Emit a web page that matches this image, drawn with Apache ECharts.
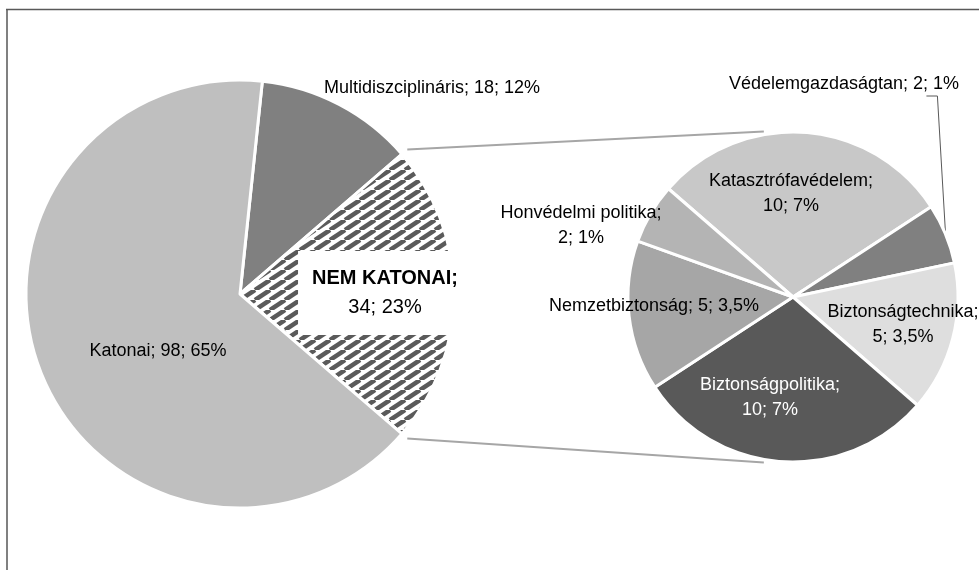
<!DOCTYPE html>
<html>
<head>
    <meta charset="utf-8"/>
    <title>Katonai / nem katonai</title>
    <style>
        html, body { margin: 0; padding: 0; background: #fff; }
        #chart { width: 979px; height: 570px; }
    </style>
</head>
<body>
<div id="chart"></div>
<script src="https://cdn.jsdelivr.net/npm/echarts@6/dist/echarts.min.js"></script>
<script>
    // fő kör
    var mainNames = ['Multidiszciplináris', 'NEM KATONAI', 'Katonai'];
    var mainValues = [18, 34, 98];
    var mainPct = ['12%', '23%', '65%'];
    // a kiemelt (nem katonai) rész bontása
    var subNames = ['Katasztrófavédelem', 'Védelemgazdaságtan', 'Biztonságtechnika', 'Biztonságpolitika', 'Nemzetbiztonság', 'Honvédelmi politika'];
    var subValues = [10, 2, 5, 10, 5, 2];
    var subPct = ['7%', '1%', '3,5%', '7%', '3,5%', '1%'];

    var FONT = '"Liberation Sans Narrow", "Arial Narrow", "Liberation Sans", Arial, sans-serif';
    var C1 = [240, 294], R1 = 214;
    var C2 = [793, 297], R2 = 165;
    var SUB_START = 139;

    // csíkos minta a NEM KATONAI szelethez
    function hatch() {
        var w = 15, h = 10;
        var cv = document.createElement('canvas');
        cv.width = w; cv.height = h;
        var ctx = cv.getContext('2d');
        ctx.fillStyle = '#fff';
        ctx.fillRect(0, 0, w, h);
        ctx.strokeStyle = '#5a5a5a';
        ctx.lineWidth = 4.5;
        for (var k = -1; k <= 1; k++) {
            ctx.beginPath();
            ctx.moveTo(k * w, h);
            ctx.lineTo(k * w + w, 0);
            ctx.stroke();
        }
        return cv;
    }

    var mainColors = ['#808080', {image: hatch(), repeat: 'repeat'}, '#bfbfbf'];
    var subColors = ['#c8c8c8', '#808080', '#dedede', '#595959', '#a6a6a6', '#b4b4b4'];

    // címkék helye, sortörés
    var mainLabels = [
        {x: 432, y: 88, br: false},
        {x: 385, y: 293, br: true},
        {x: 158, y: 351, br: false}
    ];
    var subLabels = [
        {x: 791, y: 194, br: true},
        {x: 844, y: 84, br: false, line: true},
        {x: 903, y: 325, br: true},
        {x: 770, y: 398, br: true},
        {x: 654, y: 306, br: false},
        {x: 581, y: 226, br: true}
    ];

    var total = mainValues.reduce(function (a, b) { return a + b; }, 0);
    var subTotal = subValues.reduce(function (a, b) { return a + b; }, 0);
    var startMain = 360 * (mainValues[0] + mainValues[1] / 2) / total;
    var edgeAng = startMain - 360 * mainValues[0] / total;

    var mainData = mainNames.map(function (n, i) {
        var d = {name: n, value: mainValues[i], itemStyle: {color: mainColors[i]}};
        if (i === 1) {
            d.label = {
                formatter: '{b|' + n + ';}\n{v|' + mainValues[i] + '; ' + mainPct[i] + '}',
                backgroundColor: '#fff',
                padding: [13, 14, 13, 14],
                rich: {
                    b: {fontFamily: FONT, fontSize: 20, fontWeight: 'bold', color: '#000', lineHeight: 29},
                    v: {fontFamily: FONT, fontSize: 20, color: '#000', lineHeight: 29}
                }
            };
        } else {
            d.label = {formatter: n + '; ' + mainValues[i] + '; ' + mainPct[i]};
        }
        return d;
    });

    var subData = subNames.map(function (n, i) {
        var sep = subLabels[i].br ? ';\n' : '; ';
        return {
            name: n,
            value: subValues[i],
            itemStyle: {color: subColors[i]},
            label: {
                formatter: n + sep + subValues[i] + '; ' + subPct[i],
                color: i === 3 ? '#fff' : '#000'
            }
        };
    });

    function pt(c, r, deg) {
        var a = deg * Math.PI / 180;
        return [c[0] + r * Math.cos(a), c[1] - r * Math.sin(a)];
    }

    // vezetővonal a Védelemgazdaságtan szelet közepéből
    var vedIdx = 1;
    var vedBefore = subValues.slice(0, vedIdx).reduce(function (a, b) { return a + b; }, 0);
    var vedMid = SUB_START - 360 * (vedBefore + subValues[vedIdx] / 2) / subTotal;
    var vedTip = pt(C2, R2, vedMid);
    var vedLy = subLabels[vedIdx].y + 12;

    var chart = echarts.init(document.getElementById('chart'));
    var labelBase = {
        position: 'inside',
        fontFamily: FONT,
        fontSize: 18,
        lineHeight: 25,
        color: '#000',
        align: 'center'
    };
    var option = {
        animation: false,
        backgroundColor: '#fff',
        series: [{
            type: 'pie',
            center: C1,
            radius: R1,
            startAngle: startMain,
            clockwise: true,
            avoidLabelOverlap: false,
            itemStyle: {borderColor: '#fff', borderWidth: 3},
            label: labelBase,
            labelLine: {show: false},
            labelLayout: function (p) {
                var s = mainLabels[p.dataIndex];
                return {x: s.x, y: s.y, align: 'center', verticalAlign: 'middle', hideOverlap: false};
            },
            emphasis: {disabled: true},
            data: mainData
        }, {
            type: 'pie',
            center: C2,
            radius: R2,
            startAngle: SUB_START,
            clockwise: true,
            avoidLabelOverlap: false,
            itemStyle: {borderColor: '#fff', borderWidth: 3},
            label: labelBase,
            labelLine: {show: false},
            labelLayout: function (p) {
                var s = subLabels[p.dataIndex];
                return {x: s.x, y: s.y, align: 'center', verticalAlign: 'middle', hideOverlap: false};
            },
            emphasis: {disabled: true},
            data: subData
        }],
        graphic: [
            {type: 'line', shape: {x1: 7, y1: 570, x2: 7, y2: 9}, style: {stroke: '#808080', lineWidth: 2}},
            {type: 'line', shape: {x1: 6, y1: 9.5, x2: 979, y2: 9.5}, style: {stroke: '#595959', lineWidth: 1.5}},
            (function () {
                var a = pt(C1, R1 + 7, edgeAng), b = pt(C2, R2 + 3, 100);
                return {type: 'line', shape: {x1: a[0], y1: a[1], x2: b[0], y2: b[1]}, style: {stroke: '#a6a6a6', lineWidth: 2}};
            })(),
            (function () {
                var a = pt(C1, R1 + 7, -edgeAng), b = pt(C2, R2 + 3, 260);
                return {type: 'line', shape: {x1: a[0], y1: a[1], x2: b[0], y2: b[1]}, style: {stroke: '#a6a6a6', lineWidth: 2}};
            })(),
            {
                type: 'polyline',
                shape: {points: [[vedTip[0], vedTip[1] - 2], [vedTip[0] - 8, vedLy], [vedTip[0] - 19, vedLy]]},
                style: {stroke: '#595959', lineWidth: 1, fill: null}
            }
        ]
    };
    chart.setOption(option);
    window.onresize = function () {
        chart.resize();
    };
</script>
</body>
</html>
